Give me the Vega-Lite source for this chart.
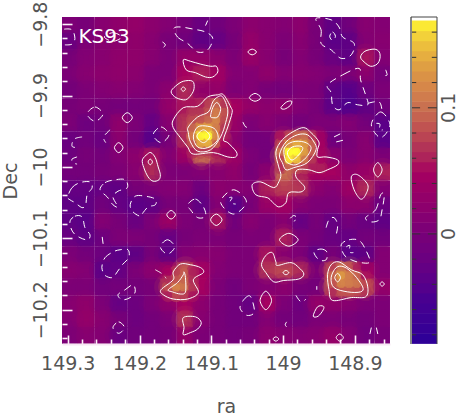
{"$schema":"https://vega.github.io/schema/vega-lite/v6.json","autosize":{"type":"none"},"padding":{"left":62,"top":17,"right":0,"bottom":70},"width":396,"height":327,"background":"white","config":{"view":{"stroke":null},"axis":{"labelFont":"DejaVu Sans","titleFont":"DejaVu Sans","labelColor":"#555","titleColor":"#555","labelFontSize":19,"titleFontSize":19,"titleFontWeight":"normal"}},
"datasets":{
"cells":[
{"ra":149.297,"dec":-9.801,"v":0.005},{"ra":149.275,"dec":-9.801,"v":0},{"ra":149.251,"dec":-9.801,"v":0.015},{"ra":149.229,"dec":-9.801,"v":0.025},{"ra":149.205,"dec":-9.801,"v":0.03},{"ra":149.182,"dec":-9.801,"v":0.02},{"ra":149.16,"dec":-9.801,"v":0.01},{"ra":149.136,"dec":-9.801,"v":0},{"ra":149.114,"dec":-9.801,"v":-0.02},{"ra":149.09,"dec":-9.801,"v":-0.01},{"ra":149.068,"dec":-9.801,"v":0.005},{"ra":149.045,"dec":-9.801,"v":0.02},{"ra":149.022,"dec":-9.801,"v":0.015},{"ra":148.999,"dec":-9.801,"v":0.01},{"ra":148.975,"dec":-9.801,"v":0.02},{"ra":148.953,"dec":-9.801,"v":0},{"ra":148.931,"dec":-9.801,"v":-0.03},{"ra":148.907,"dec":-9.801,"v":-0.01},{"ra":148.885,"dec":-9.801,"v":0.015},{"ra":148.861,"dec":-9.801,"v":0.01},
{"ra":149.297,"dec":-9.824,"v":-0.02},{"ra":149.275,"dec":-9.824,"v":0.005},{"ra":149.251,"dec":-9.824,"v":0.015},{"ra":149.229,"dec":-9.824,"v":0.02},{"ra":149.205,"dec":-9.824,"v":0.025},{"ra":149.182,"dec":-9.824,"v":0.015},{"ra":149.16,"dec":-9.824,"v":0},{"ra":149.136,"dec":-9.824,"v":-0.01},{"ra":149.114,"dec":-9.824,"v":-0.03},{"ra":149.09,"dec":-9.824,"v":-0.025},{"ra":149.068,"dec":-9.824,"v":0},{"ra":149.045,"dec":-9.824,"v":0.03},{"ra":149.022,"dec":-9.824,"v":0.015},{"ra":148.999,"dec":-9.824,"v":0.005},{"ra":148.975,"dec":-9.824,"v":0.015},{"ra":148.953,"dec":-9.824,"v":0},{"ra":148.931,"dec":-9.824,"v":-0.035},{"ra":148.907,"dec":-9.824,"v":-0.03},{"ra":148.885,"dec":-9.824,"v":0.01},{"ra":148.861,"dec":-9.824,"v":0.015},
{"ra":149.297,"dec":-9.847,"v":0},{"ra":149.275,"dec":-9.847,"v":0.01},{"ra":149.251,"dec":-9.847,"v":0.015},{"ra":149.229,"dec":-9.847,"v":0.025},{"ra":149.205,"dec":-9.847,"v":0.025},{"ra":149.182,"dec":-9.847,"v":0.015},{"ra":149.16,"dec":-9.847,"v":0.005},{"ra":149.136,"dec":-9.847,"v":0.03},{"ra":149.114,"dec":-9.847,"v":0.03},{"ra":149.09,"dec":-9.847,"v":0.02},{"ra":149.068,"dec":-9.847,"v":0.005},{"ra":149.045,"dec":-9.847,"v":0.035},{"ra":149.022,"dec":-9.847,"v":0.015},{"ra":148.999,"dec":-9.847,"v":0},{"ra":148.975,"dec":-9.847,"v":0.01},{"ra":148.953,"dec":-9.847,"v":0},{"ra":148.931,"dec":-9.847,"v":-0.02},{"ra":148.907,"dec":-9.847,"v":-0.03},{"ra":148.885,"dec":-9.847,"v":0.055},{"ra":148.861,"dec":-9.847,"v":0.01},
{"ra":149.297,"dec":-9.87,"v":0.005},{"ra":149.275,"dec":-9.87,"v":0.015},{"ra":149.251,"dec":-9.87,"v":0.02},{"ra":149.229,"dec":-9.87,"v":0.025},{"ra":149.205,"dec":-9.87,"v":0.02},{"ra":149.182,"dec":-9.87,"v":0.005},{"ra":149.16,"dec":-9.87,"v":0.005},{"ra":149.136,"dec":-9.87,"v":0.05},{"ra":149.114,"dec":-9.87,"v":0.06},{"ra":149.09,"dec":-9.87,"v":0.045},{"ra":149.068,"dec":-9.87,"v":0.01},{"ra":149.045,"dec":-9.87,"v":0.01},{"ra":149.022,"dec":-9.87,"v":0.025},{"ra":148.999,"dec":-9.87,"v":0.01},{"ra":148.975,"dec":-9.87,"v":0.015},{"ra":148.953,"dec":-9.87,"v":0.01},{"ra":148.931,"dec":-9.87,"v":0.005},{"ra":148.907,"dec":-9.87,"v":0.005},{"ra":148.885,"dec":-9.87,"v":0.02},{"ra":148.861,"dec":-9.87,"v":-0.005},
{"ra":149.297,"dec":-9.892,"v":-0.005},{"ra":149.275,"dec":-9.892,"v":0.005},{"ra":149.251,"dec":-9.892,"v":0.01},{"ra":149.229,"dec":-9.892,"v":0.015},{"ra":149.205,"dec":-9.892,"v":0.01},{"ra":149.182,"dec":-9.892,"v":0.005},{"ra":149.16,"dec":-9.892,"v":0.02},{"ra":149.136,"dec":-9.892,"v":0.065},{"ra":149.114,"dec":-9.892,"v":0.025},{"ra":149.09,"dec":-9.892,"v":0.03},{"ra":149.068,"dec":-9.892,"v":0.005},{"ra":149.045,"dec":-9.892,"v":0.01},{"ra":149.022,"dec":-9.892,"v":0},{"ra":148.999,"dec":-9.892,"v":-0.005},{"ra":148.975,"dec":-9.892,"v":0.005},{"ra":148.953,"dec":-9.892,"v":0.005},{"ra":148.931,"dec":-9.892,"v":-0.03},{"ra":148.907,"dec":-9.892,"v":-0.04},{"ra":148.885,"dec":-9.892,"v":-0.015},{"ra":148.861,"dec":-9.892,"v":0.005},
{"ra":149.297,"dec":-9.916,"v":0},{"ra":149.275,"dec":-9.916,"v":0.005},{"ra":149.251,"dec":-9.916,"v":0},{"ra":149.229,"dec":-9.916,"v":-0.005},{"ra":149.205,"dec":-9.916,"v":-0.005},{"ra":149.182,"dec":-9.916,"v":-0.005},{"ra":149.16,"dec":-9.916,"v":0.03},{"ra":149.136,"dec":-9.916,"v":0.055},{"ra":149.114,"dec":-9.916,"v":0.06},{"ra":149.09,"dec":-9.916,"v":0.08},{"ra":149.068,"dec":-9.916,"v":0.05},{"ra":149.045,"dec":-9.916,"v":0.03},{"ra":149.022,"dec":-9.916,"v":0.02},{"ra":148.999,"dec":-9.916,"v":0.025},{"ra":148.975,"dec":-9.916,"v":0.01},{"ra":148.953,"dec":-9.916,"v":0},{"ra":148.931,"dec":-9.916,"v":-0.035},{"ra":148.907,"dec":-9.916,"v":-0.045},{"ra":148.885,"dec":-9.916,"v":-0.03},{"ra":148.861,"dec":-9.916,"v":-0.01},
{"ra":149.297,"dec":-9.938,"v":0.005},{"ra":149.275,"dec":-9.938,"v":-0.015},{"ra":149.251,"dec":-9.938,"v":-0.01},{"ra":149.229,"dec":-9.938,"v":0.025},{"ra":149.205,"dec":-9.938,"v":0.005},{"ra":149.182,"dec":-9.938,"v":-0.025},{"ra":149.16,"dec":-9.938,"v":0.015},{"ra":149.136,"dec":-9.938,"v":0.07},{"ra":149.114,"dec":-9.938,"v":0.11},{"ra":149.09,"dec":-9.938,"v":0.115},{"ra":149.068,"dec":-9.938,"v":0.035},{"ra":149.045,"dec":-9.938,"v":0.005},{"ra":149.022,"dec":-9.938,"v":0.015},{"ra":148.999,"dec":-9.938,"v":0.005},{"ra":148.975,"dec":-9.938,"v":-0.005},{"ra":148.953,"dec":-9.938,"v":0.005},{"ra":148.931,"dec":-9.938,"v":0.005},{"ra":148.907,"dec":-9.938,"v":0.01},{"ra":148.885,"dec":-9.938,"v":-0.005},{"ra":148.861,"dec":-9.938,"v":-0.035},
{"ra":149.297,"dec":-9.962,"v":-0.02},{"ra":149.275,"dec":-9.962,"v":-0.01},{"ra":149.251,"dec":-9.962,"v":-0.02},{"ra":149.229,"dec":-9.962,"v":0.02},{"ra":149.205,"dec":-9.962,"v":-0.005},{"ra":149.182,"dec":-9.962,"v":-0.04},{"ra":149.16,"dec":-9.962,"v":0},{"ra":149.136,"dec":-9.962,"v":0.065},{"ra":149.114,"dec":-9.962,"v":0.15},{"ra":149.09,"dec":-9.962,"v":0.1},{"ra":149.068,"dec":-9.962,"v":0.02},{"ra":149.045,"dec":-9.962,"v":-0.005},{"ra":149.022,"dec":-9.962,"v":-0.005},{"ra":148.999,"dec":-9.962,"v":0.06},{"ra":148.975,"dec":-9.962,"v":0.09},{"ra":148.953,"dec":-9.962,"v":0.05},{"ra":148.931,"dec":-9.962,"v":-0.015},{"ra":148.907,"dec":-9.962,"v":0},{"ra":148.885,"dec":-9.962,"v":0.015},{"ra":148.861,"dec":-9.962,"v":-0.035},
{"ra":149.297,"dec":-9.985,"v":-0.015},{"ra":149.275,"dec":-9.985,"v":0},{"ra":149.251,"dec":-9.985,"v":-0.005},{"ra":149.229,"dec":-9.985,"v":0.01},{"ra":149.205,"dec":-9.985,"v":0.02},{"ra":149.182,"dec":-9.985,"v":0.055},{"ra":149.16,"dec":-9.985,"v":0.01},{"ra":149.136,"dec":-9.985,"v":0.04},{"ra":149.114,"dec":-9.985,"v":0.11},{"ra":149.09,"dec":-9.985,"v":0.07},{"ra":149.068,"dec":-9.985,"v":0.04},{"ra":149.045,"dec":-9.985,"v":0.005},{"ra":149.022,"dec":-9.985,"v":-0.005},{"ra":148.999,"dec":-9.985,"v":0.13},{"ra":148.975,"dec":-9.985,"v":0.17},{"ra":148.953,"dec":-9.985,"v":0.09},{"ra":148.931,"dec":-9.985,"v":0.02},{"ra":148.907,"dec":-9.985,"v":0.005},{"ra":148.885,"dec":-9.985,"v":0.015},{"ra":148.861,"dec":-9.985,"v":0.005},
{"ra":149.297,"dec":-10.007,"v":-0.005},{"ra":149.275,"dec":-10.007,"v":-0.005},{"ra":149.251,"dec":-10.007,"v":0},{"ra":149.229,"dec":-10.007,"v":0.005},{"ra":149.205,"dec":-10.007,"v":0.015},{"ra":149.182,"dec":-10.007,"v":0.065},{"ra":149.16,"dec":-10.007,"v":0.005},{"ra":149.136,"dec":-10.007,"v":0.005},{"ra":149.114,"dec":-10.007,"v":0.01},{"ra":149.09,"dec":-10.007,"v":0.015},{"ra":149.068,"dec":-10.007,"v":0.025},{"ra":149.045,"dec":-10.007,"v":0},{"ra":149.022,"dec":-10.007,"v":0.02},{"ra":148.999,"dec":-10.007,"v":0.1},{"ra":148.975,"dec":-10.007,"v":0.06},{"ra":148.953,"dec":-10.007,"v":0.05},{"ra":148.931,"dec":-10.007,"v":0.05},{"ra":148.907,"dec":-10.007,"v":0.025},{"ra":148.885,"dec":-10.007,"v":0.035},{"ra":148.861,"dec":-10.007,"v":0.06},
{"ra":149.297,"dec":-10.031,"v":-0.025},{"ra":149.275,"dec":-10.031,"v":-0.025},{"ra":149.251,"dec":-10.031,"v":-0.025},{"ra":149.229,"dec":-10.031,"v":-0.03},{"ra":149.205,"dec":-10.031,"v":0},{"ra":149.182,"dec":-10.031,"v":0.005},{"ra":149.16,"dec":-10.031,"v":0.01},{"ra":149.136,"dec":-10.031,"v":0.01},{"ra":149.114,"dec":-10.031,"v":-0.015},{"ra":149.09,"dec":-10.031,"v":0.02},{"ra":149.068,"dec":-10.031,"v":0.015},{"ra":149.045,"dec":-10.031,"v":0.01},{"ra":149.022,"dec":-10.031,"v":0.06},{"ra":148.999,"dec":-10.031,"v":0.075},{"ra":148.975,"dec":-10.031,"v":0.07},{"ra":148.953,"dec":-10.031,"v":0.02},{"ra":148.931,"dec":-10.031,"v":0.01},{"ra":148.907,"dec":-10.031,"v":0.04},{"ra":148.885,"dec":-10.031,"v":0.065},{"ra":148.861,"dec":-10.031,"v":0.01},
{"ra":149.297,"dec":-10.053,"v":-0.03},{"ra":149.275,"dec":-10.053,"v":-0.03},{"ra":149.251,"dec":-10.053,"v":-0.01},{"ra":149.229,"dec":-10.053,"v":-0.025},{"ra":149.205,"dec":-10.053,"v":-0.035},{"ra":149.182,"dec":-10.053,"v":-0.03},{"ra":149.16,"dec":-10.053,"v":0},{"ra":149.136,"dec":-10.053,"v":0},{"ra":149.114,"dec":-10.053,"v":-0.03},{"ra":149.09,"dec":-10.053,"v":0.01},{"ra":149.068,"dec":-10.053,"v":-0.04},{"ra":149.045,"dec":-10.053,"v":0},{"ra":149.022,"dec":-10.053,"v":0.035},{"ra":148.999,"dec":-10.053,"v":0.045},{"ra":148.975,"dec":-10.053,"v":0.015},{"ra":148.953,"dec":-10.053,"v":0.005},{"ra":148.931,"dec":-10.053,"v":0.005},{"ra":148.907,"dec":-10.053,"v":0.02},{"ra":148.885,"dec":-10.053,"v":0.02},{"ra":148.861,"dec":-10.053,"v":-0.02},
{"ra":149.297,"dec":-10.077,"v":-0.03},{"ra":149.275,"dec":-10.077,"v":-0.035},{"ra":149.251,"dec":-10.077,"v":0.01},{"ra":149.229,"dec":-10.077,"v":0},{"ra":149.205,"dec":-10.077,"v":-0.02},{"ra":149.182,"dec":-10.077,"v":0.005},{"ra":149.16,"dec":-10.077,"v":0.04},{"ra":149.136,"dec":-10.077,"v":0.005},{"ra":149.114,"dec":-10.077,"v":0},{"ra":149.09,"dec":-10.077,"v":0.055},{"ra":149.068,"dec":-10.077,"v":-0.01},{"ra":149.045,"dec":-10.077,"v":0.015},{"ra":149.022,"dec":-10.077,"v":0.005},{"ra":148.999,"dec":-10.077,"v":0.015},{"ra":148.975,"dec":-10.077,"v":-0.025},{"ra":148.953,"dec":-10.077,"v":0},{"ra":148.931,"dec":-10.077,"v":-0.025},{"ra":148.907,"dec":-10.077,"v":-0.005},{"ra":148.885,"dec":-10.077,"v":-0.02},{"ra":148.861,"dec":-10.077,"v":-0.03},
{"ra":149.297,"dec":-10.099,"v":-0.02},{"ra":149.275,"dec":-10.099,"v":-0.03},{"ra":149.251,"dec":-10.099,"v":-0.015},{"ra":149.229,"dec":-10.099,"v":0.005},{"ra":149.205,"dec":-10.099,"v":0.005},{"ra":149.182,"dec":-10.099,"v":0},{"ra":149.16,"dec":-10.099,"v":-0.025},{"ra":149.136,"dec":-10.099,"v":0},{"ra":149.114,"dec":-10.099,"v":0.005},{"ra":149.09,"dec":-10.099,"v":0.005},{"ra":149.068,"dec":-10.099,"v":0},{"ra":149.045,"dec":-10.099,"v":0.005},{"ra":149.022,"dec":-10.099,"v":0.005},{"ra":148.999,"dec":-10.099,"v":0.06},{"ra":148.975,"dec":-10.099,"v":0.005},{"ra":148.953,"dec":-10.099,"v":-0.005},{"ra":148.931,"dec":-10.099,"v":-0.02},{"ra":148.907,"dec":-10.099,"v":-0.025},{"ra":148.885,"dec":-10.099,"v":-0.005},{"ra":148.861,"dec":-10.099,"v":-0.01},
{"ra":149.297,"dec":-10.123,"v":0.005},{"ra":149.275,"dec":-10.123,"v":-0.005},{"ra":149.251,"dec":-10.123,"v":-0.015},{"ra":149.229,"dec":-10.123,"v":-0.035},{"ra":149.205,"dec":-10.123,"v":-0.03},{"ra":149.182,"dec":-10.123,"v":0},{"ra":149.16,"dec":-10.123,"v":-0.03},{"ra":149.136,"dec":-10.123,"v":0.01},{"ra":149.114,"dec":-10.123,"v":0.015},{"ra":149.09,"dec":-10.123,"v":0.015},{"ra":149.068,"dec":-10.123,"v":0.005},{"ra":149.045,"dec":-10.123,"v":0.005},{"ra":149.022,"dec":-10.123,"v":0.055},{"ra":148.999,"dec":-10.123,"v":0.015},{"ra":148.975,"dec":-10.123,"v":0.005},{"ra":148.953,"dec":-10.123,"v":-0.03},{"ra":148.931,"dec":-10.123,"v":0},{"ra":148.907,"dec":-10.123,"v":-0.035},{"ra":148.885,"dec":-10.123,"v":-0.03},{"ra":148.861,"dec":-10.123,"v":0.01},
{"ra":149.297,"dec":-10.145,"v":0.015},{"ra":149.275,"dec":-10.145,"v":0.01},{"ra":149.251,"dec":-10.145,"v":-0.035},{"ra":149.229,"dec":-10.145,"v":-0.025},{"ra":149.205,"dec":-10.145,"v":0.005},{"ra":149.182,"dec":-10.145,"v":0.02},{"ra":149.16,"dec":-10.145,"v":0.04},{"ra":149.136,"dec":-10.145,"v":0.09},{"ra":149.114,"dec":-10.145,"v":0.05},{"ra":149.09,"dec":-10.145,"v":0.01},{"ra":149.068,"dec":-10.145,"v":0.005},{"ra":149.045,"dec":-10.145,"v":0.005},{"ra":149.022,"dec":-10.145,"v":0.07},{"ra":148.999,"dec":-10.145,"v":0.08},{"ra":148.975,"dec":-10.145,"v":0.065},{"ra":148.953,"dec":-10.145,"v":0.005},{"ra":148.931,"dec":-10.145,"v":0.08},{"ra":148.907,"dec":-10.145,"v":0.11},{"ra":148.885,"dec":-10.145,"v":0.05},{"ra":148.861,"dec":-10.145,"v":0.01},
{"ra":149.297,"dec":-10.168,"v":0.005},{"ra":149.275,"dec":-10.168,"v":0.005},{"ra":149.251,"dec":-10.168,"v":-0.01},{"ra":149.229,"dec":-10.168,"v":-0.005},{"ra":149.205,"dec":-10.168,"v":-0.005},{"ra":149.182,"dec":-10.168,"v":0},{"ra":149.16,"dec":-10.168,"v":0.075},{"ra":149.136,"dec":-10.168,"v":0.115},{"ra":149.114,"dec":-10.168,"v":0.05},{"ra":149.09,"dec":-10.168,"v":0.005},{"ra":149.068,"dec":-10.168,"v":-0.01},{"ra":149.045,"dec":-10.168,"v":0.005},{"ra":149.022,"dec":-10.168,"v":0.01},{"ra":148.999,"dec":-10.168,"v":0.02},{"ra":148.975,"dec":-10.168,"v":0},{"ra":148.953,"dec":-10.168,"v":-0.005},{"ra":148.931,"dec":-10.168,"v":0.09},{"ra":148.907,"dec":-10.168,"v":0.11},{"ra":148.885,"dec":-10.168,"v":0.085},{"ra":148.861,"dec":-10.168,"v":0.03},
{"ra":149.297,"dec":-10.192,"v":0.015},{"ra":149.275,"dec":-10.192,"v":0.025},{"ra":149.251,"dec":-10.192,"v":0.005},{"ra":149.229,"dec":-10.192,"v":-0.025},{"ra":149.205,"dec":-10.192,"v":-0.015},{"ra":149.182,"dec":-10.192,"v":0.005},{"ra":149.16,"dec":-10.192,"v":0.025},{"ra":149.136,"dec":-10.192,"v":0.05},{"ra":149.114,"dec":-10.192,"v":0.02},{"ra":149.09,"dec":-10.192,"v":0},{"ra":149.068,"dec":-10.192,"v":-0.01},{"ra":149.045,"dec":-10.192,"v":-0.025},{"ra":149.022,"dec":-10.192,"v":0.05},{"ra":148.999,"dec":-10.192,"v":0.005},{"ra":148.975,"dec":-10.192,"v":-0.015},{"ra":148.953,"dec":-10.192,"v":0.03},{"ra":148.931,"dec":-10.192,"v":0.025},{"ra":148.907,"dec":-10.192,"v":0.015},{"ra":148.885,"dec":-10.192,"v":0.005},{"ra":148.861,"dec":-10.192,"v":0.005},
{"ra":149.297,"dec":-10.214,"v":0.01},{"ra":149.275,"dec":-10.214,"v":0.03},{"ra":149.251,"dec":-10.214,"v":0.015},{"ra":149.229,"dec":-10.214,"v":0},{"ra":149.205,"dec":-10.214,"v":-0.015},{"ra":149.182,"dec":-10.214,"v":-0.005},{"ra":149.16,"dec":-10.214,"v":0.005},{"ra":149.136,"dec":-10.214,"v":0.07},{"ra":149.114,"dec":-10.214,"v":0.015},{"ra":149.09,"dec":-10.214,"v":0},{"ra":149.068,"dec":-10.214,"v":-0.01},{"ra":149.045,"dec":-10.214,"v":-0.01},{"ra":149.022,"dec":-10.214,"v":0.01},{"ra":148.999,"dec":-10.214,"v":-0.005},{"ra":148.975,"dec":-10.214,"v":-0.01},{"ra":148.953,"dec":-10.214,"v":0.005},{"ra":148.931,"dec":-10.214,"v":0.005},{"ra":148.907,"dec":-10.214,"v":0},{"ra":148.885,"dec":-10.214,"v":-0.005},{"ra":148.861,"dec":-10.214,"v":0.005},
{"ra":149.297,"dec":-10.236,"v":0.005},{"ra":149.275,"dec":-10.236,"v":0.015},{"ra":149.251,"dec":-10.236,"v":0.01},{"ra":149.229,"dec":-10.236,"v":-0.02},{"ra":149.205,"dec":-10.236,"v":-0.01},{"ra":149.182,"dec":-10.236,"v":-0.005},{"ra":149.16,"dec":-10.236,"v":0},{"ra":149.136,"dec":-10.236,"v":0.03},{"ra":149.114,"dec":-10.236,"v":0.005},{"ra":149.09,"dec":-10.236,"v":0},{"ra":149.068,"dec":-10.236,"v":-0.005},{"ra":149.045,"dec":-10.236,"v":0},{"ra":149.022,"dec":-10.236,"v":0.02},{"ra":148.999,"dec":-10.236,"v":0.015},{"ra":148.975,"dec":-10.236,"v":0.01},{"ra":148.953,"dec":-10.236,"v":0.015},{"ra":148.931,"dec":-10.236,"v":0.03},{"ra":148.907,"dec":-10.236,"v":0.01},{"ra":148.885,"dec":-10.236,"v":-0.01},{"ra":148.861,"dec":-10.236,"v":0}
],
"fine":[
{"ra":149.126,"dec":-9.912,"v":0.055},{"ra":149.115,"dec":-9.912,"v":0.06},{"ra":149.104,"dec":-9.912,"v":0.075},{"ra":149.093,"dec":-9.912,"v":0.095},{"ra":149.082,"dec":-9.912,"v":0.07},
{"ra":149.126,"dec":-9.923,"v":0.07},{"ra":149.115,"dec":-9.923,"v":0.07},{"ra":149.104,"dec":-9.923,"v":0.085},{"ra":149.093,"dec":-9.923,"v":0.11},{"ra":149.082,"dec":-9.923,"v":0.085},
{"ra":149.126,"dec":-9.934,"v":0.08},{"ra":149.115,"dec":-9.934,"v":0.085},{"ra":149.104,"dec":-9.934,"v":0.095},{"ra":149.093,"dec":-9.934,"v":0.115},{"ra":149.082,"dec":-9.934,"v":0.08},
{"ra":149.126,"dec":-9.945,"v":0.095},{"ra":149.115,"dec":-9.945,"v":0.13},{"ra":149.104,"dec":-9.945,"v":0.135},{"ra":149.093,"dec":-9.945,"v":0.11},{"ra":149.082,"dec":-9.945,"v":0.07},
{"ra":149.126,"dec":-9.957,"v":0.11},{"ra":149.115,"dec":-9.957,"v":0.17},{"ra":149.104,"dec":-9.957,"v":0.172},{"ra":149.093,"dec":-9.957,"v":0.12},{"ra":149.082,"dec":-9.957,"v":0.06},
{"ra":149.126,"dec":-9.968,"v":0.085},{"ra":149.115,"dec":-9.968,"v":0.135},{"ra":149.104,"dec":-9.968,"v":0.14},{"ra":149.093,"dec":-9.968,"v":0.09},{"ra":149.082,"dec":-9.968,"v":0.05},
{"ra":149.126,"dec":-9.979,"v":0.06},{"ra":149.115,"dec":-9.979,"v":0.07},{"ra":149.104,"dec":-9.979,"v":0.07},{"ra":149.093,"dec":-9.979,"v":0.055},{"ra":149.082,"dec":-9.979,"v":0.035},
{"ra":149.003,"dec":-9.957,"v":0.055},{"ra":148.992,"dec":-9.957,"v":0.08},{"ra":148.981,"dec":-9.957,"v":0.095},{"ra":148.97,"dec":-9.957,"v":0.1},{"ra":148.959,"dec":-9.957,"v":0.07},{"ra":148.947,"dec":-9.957,"v":0.04},
{"ra":149.003,"dec":-9.968,"v":0.08},{"ra":148.992,"dec":-9.968,"v":0.125},{"ra":148.981,"dec":-9.968,"v":0.14},{"ra":148.97,"dec":-9.968,"v":0.13},{"ra":148.959,"dec":-9.968,"v":0.095},{"ra":148.947,"dec":-9.968,"v":0.045},
{"ra":149.003,"dec":-9.979,"v":0.1},{"ra":148.992,"dec":-9.979,"v":0.172},{"ra":148.981,"dec":-9.979,"v":0.172},{"ra":148.97,"dec":-9.979,"v":0.13},{"ra":148.959,"dec":-9.979,"v":0.09},{"ra":148.947,"dec":-9.979,"v":0.045},
{"ra":149.003,"dec":-9.99,"v":0.075},{"ra":148.992,"dec":-9.99,"v":0.165},{"ra":148.981,"dec":-9.99,"v":0.15},{"ra":148.97,"dec":-9.99,"v":0.105},{"ra":148.959,"dec":-9.99,"v":0.07},{"ra":148.947,"dec":-9.99,"v":0.05},
{"ra":149.003,"dec":-10.001,"v":0.065},{"ra":148.992,"dec":-10.001,"v":0.095},{"ra":148.981,"dec":-10.001,"v":0.085},{"ra":148.97,"dec":-10.001,"v":0.075},{"ra":148.959,"dec":-10.001,"v":0.06},{"ra":148.947,"dec":-10.001,"v":0.06},
{"ra":148.931,"dec":-10.141,"v":0.075},{"ra":148.919,"dec":-10.141,"v":0.1},{"ra":148.908,"dec":-10.141,"v":0.085},{"ra":148.897,"dec":-10.141,"v":0.06},{"ra":148.886,"dec":-10.141,"v":0.035},
{"ra":148.931,"dec":-10.152,"v":0.095},{"ra":148.919,"dec":-10.152,"v":0.13},{"ra":148.908,"dec":-10.152,"v":0.11},{"ra":148.897,"dec":-10.152,"v":0.095},{"ra":148.886,"dec":-10.152,"v":0.055},
{"ra":148.931,"dec":-10.164,"v":0.085},{"ra":148.919,"dec":-10.164,"v":0.115},{"ra":148.908,"dec":-10.164,"v":0.11},{"ra":148.897,"dec":-10.164,"v":0.105},{"ra":148.886,"dec":-10.164,"v":0.08},
{"ra":148.931,"dec":-10.175,"v":0.065},{"ra":148.919,"dec":-10.175,"v":0.085},{"ra":148.908,"dec":-10.175,"v":0.085},{"ra":148.897,"dec":-10.175,"v":0.08},{"ra":148.886,"dec":-10.175,"v":0.07},
{"ra":149.16,"dec":-10.147,"v":0.05},{"ra":149.149,"dec":-10.147,"v":0.075},{"ra":149.138,"dec":-10.147,"v":0.09},{"ra":149.126,"dec":-10.147,"v":0.06},
{"ra":149.16,"dec":-10.158,"v":0.065},{"ra":149.149,"dec":-10.158,"v":0.085},{"ra":149.138,"dec":-10.158,"v":0.095},{"ra":149.126,"dec":-10.158,"v":0.065},
{"ra":149.16,"dec":-10.169,"v":0.085},{"ra":149.149,"dec":-10.169,"v":0.115},{"ra":149.138,"dec":-10.169,"v":0.105},{"ra":149.126,"dec":-10.169,"v":0.07},
{"ra":149.16,"dec":-10.18,"v":0.06},{"ra":149.149,"dec":-10.18,"v":0.08},{"ra":149.138,"dec":-10.18,"v":0.075},{"ra":149.126,"dec":-10.18,"v":0.055}
],
"solid":[
{"c":1,"ra":149.139,"dec":-9.85},{"c":1,"ra":149.129,"dec":-9.852},{"c":1,"ra":149.115,"dec":-9.856},{"c":1,"ra":149.101,"dec":-9.859},{"c":1,"ra":149.093,"dec":-9.859},{"c":1,"ra":149.091,"dec":-9.867},{"c":1,"ra":149.098,"dec":-9.874},{"c":1,"ra":149.108,"dec":-9.874},{"c":1,"ra":149.122,"dec":-9.868},{"c":1,"ra":149.135,"dec":-9.864},
{"c":2,"ra":149.156,"dec":-9.895},{"c":2,"ra":149.15,"dec":-9.887},{"c":2,"ra":149.139,"dec":-9.88},{"c":2,"ra":149.126,"dec":-9.88},{"c":2,"ra":149.124,"dec":-9.89},{"c":2,"ra":149.128,"dec":-9.899},{"c":2,"ra":149.136,"dec":-9.906},{"c":2,"ra":149.149,"dec":-9.903},
{"c":3,"ra":149.142,"dec":-9.891},{"c":3,"ra":149.139,"dec":-9.888},{"c":3,"ra":149.136,"dec":-9.891},{"c":3,"ra":149.139,"dec":-9.894},
{"c":4,"ra":149.224,"dec":-9.931},{"c":4,"ra":149.217,"dec":-9.924},{"c":4,"ra":149.21,"dec":-9.931},{"c":4,"ra":149.217,"dec":-9.938},
{"c":5,"ra":149.235,"dec":-9.973},{"c":5,"ra":149.229,"dec":-9.966},{"c":5,"ra":149.223,"dec":-9.973},{"c":5,"ra":149.229,"dec":-9.98},
{"c":6,"ra":149.196,"dec":-9.99},{"c":6,"ra":149.189,"dec":-9.982},{"c":6,"ra":149.184,"dec":-9.98},{"c":6,"ra":149.178,"dec":-9.987},{"c":6,"ra":149.174,"dec":-10},{"c":6,"ra":149.171,"dec":-10.011},{"c":6,"ra":149.173,"dec":-10.018},{"c":6,"ra":149.181,"dec":-10.02},{"c":6,"ra":149.188,"dec":-10.014},{"c":6,"ra":149.194,"dec":-10.001},
{"c":7,"ra":149.188,"dec":-9.993},{"c":7,"ra":149.185,"dec":-9.989},{"c":7,"ra":149.182,"dec":-9.993},{"c":7,"ra":149.185,"dec":-9.997},
{"c":8,"ra":149.153,"dec":-9.934},{"c":8,"ra":149.139,"dec":-9.917},{"c":8,"ra":149.119,"dec":-9.915},{"c":8,"ra":149.105,"dec":-9.902},{"c":8,"ra":149.091,"dec":-9.899},{"c":8,"ra":149.083,"dec":-9.899},{"c":8,"ra":149.073,"dec":-9.916},{"c":8,"ra":149.071,"dec":-9.924},{"c":8,"ra":149.077,"dec":-9.944},{"c":8,"ra":149.083,"dec":-9.962},{"c":8,"ra":149.077,"dec":-9.966},{"c":8,"ra":149.065,"dec":-9.979},{"c":8,"ra":149.066,"dec":-9.986},{"c":8,"ra":149.077,"dec":-9.986},{"c":8,"ra":149.097,"dec":-9.98},{"c":8,"ra":149.125,"dec":-9.982},{"c":8,"ra":149.133,"dec":-9.972},{"c":8,"ra":149.143,"dec":-9.959},{"c":8,"ra":149.153,"dec":-9.945},
{"c":9,"ra":149.132,"dec":-9.944},{"c":9,"ra":149.119,"dec":-9.93},{"c":9,"ra":149.104,"dec":-9.923},{"c":9,"ra":149.098,"dec":-9.909},{"c":9,"ra":149.091,"dec":-9.902},{"c":9,"ra":149.084,"dec":-9.902},{"c":9,"ra":149.077,"dec":-9.92},{"c":9,"ra":149.08,"dec":-9.938},{"c":9,"ra":149.087,"dec":-9.958},{"c":9,"ra":149.101,"dec":-9.976},{"c":9,"ra":149.119,"dec":-9.978},{"c":9,"ra":149.129,"dec":-9.965},{"c":9,"ra":149.132,"dec":-9.952},
{"c":10,"ra":149.119,"dec":-9.944},{"c":10,"ra":149.105,"dec":-9.943},{"c":10,"ra":149.094,"dec":-9.948},{"c":10,"ra":149.091,"dec":-9.962},{"c":10,"ra":149.105,"dec":-9.973},{"c":10,"ra":149.119,"dec":-9.972},{"c":10,"ra":149.125,"dec":-9.958},
{"c":11,"ra":149.12,"dec":-9.957},{"c":11,"ra":149.111,"dec":-9.948},{"c":11,"ra":149.102,"dec":-9.957},{"c":11,"ra":149.111,"dec":-9.966},
{"c":12,"ra":149.101,"dec":-9.929},{"c":12,"ra":149.098,"dec":-9.917},{"c":12,"ra":149.093,"dec":-9.91},{"c":12,"ra":149.089,"dec":-9.913},{"c":12,"ra":149.087,"dec":-9.92},{"c":12,"ra":149.091,"dec":-9.93},{"c":12,"ra":149.098,"dec":-9.931},
{"c":13,"ra":149.049,"dec":-9.839},{"c":13,"ra":149.043,"dec":-9.835},{"c":13,"ra":149.037,"dec":-9.839},{"c":13,"ra":149.043,"dec":-9.843},
{"c":14,"ra":148.892,"dec":-9.846},{"c":14,"ra":148.886,"dec":-9.838},{"c":14,"ra":148.873,"dec":-9.835},{"c":14,"ra":148.866,"dec":-9.839},{"c":14,"ra":148.865,"dec":-9.848},{"c":14,"ra":148.869,"dec":-9.856},{"c":14,"ra":148.878,"dec":-9.859},{"c":14,"ra":148.887,"dec":-9.853},
{"c":15,"ra":149.047,"dec":-9.903},{"c":15,"ra":149.039,"dec":-9.897},{"c":15,"ra":149.031,"dec":-9.903},{"c":15,"ra":149.039,"dec":-9.908},
{"c":16,"ra":149.003,"dec":-9.917},{"c":16,"ra":148.995,"dec":-9.909},{"c":16,"ra":148.988,"dec":-9.908},{"c":16,"ra":148.99,"dec":-9.914},{"c":16,"ra":148.998,"dec":-9.919},
{"c":17,"ra":149.01,"dec":-9.979},{"c":17,"ra":149.001,"dec":-9.962},{"c":17,"ra":148.985,"dec":-9.95},{"c":17,"ra":148.971,"dec":-9.945},{"c":17,"ra":148.961,"dec":-9.952},{"c":17,"ra":148.95,"dec":-9.965},{"c":17,"ra":148.952,"dec":-9.976},{"c":17,"ra":148.952,"dec":-9.986},{"c":17,"ra":148.94,"dec":-9.986},{"c":17,"ra":148.924,"dec":-9.99},{"c":17,"ra":148.924,"dec":-9.997},{"c":17,"ra":148.938,"dec":-10.004},{"c":17,"ra":148.95,"dec":-10.008},{"c":17,"ra":148.964,"dec":-10.004},{"c":17,"ra":148.98,"dec":-10.004},{"c":17,"ra":148.982,"dec":-10.014},{"c":17,"ra":148.97,"dec":-10.028},{"c":17,"ra":148.975,"dec":-10.035},{"c":17,"ra":148.992,"dec":-10.036},{"c":17,"ra":148.996,"dec":-10.05},{"c":17,"ra":149.006,"dec":-10.056},{"c":17,"ra":149.015,"dec":-10.049},{"c":17,"ra":149.022,"dec":-10.043},{"c":17,"ra":149.038,"dec":-10.039},{"c":17,"ra":149.043,"dec":-10.025},{"c":17,"ra":149.031,"dec":-10.021},{"c":17,"ra":149.013,"dec":-10.029},{"c":17,"ra":149.006,"dec":-10.021},{"c":17,"ra":149.003,"dec":-10.011},{"c":17,"ra":149.006,"dec":-10},
{"c":18,"ra":149.005,"dec":-9.983},{"c":18,"ra":148.996,"dec":-9.965},{"c":18,"ra":148.98,"dec":-9.955},{"c":18,"ra":148.966,"dec":-9.955},{"c":18,"ra":148.957,"dec":-9.965},{"c":18,"ra":148.954,"dec":-9.976},{"c":18,"ra":148.966,"dec":-9.994},{"c":18,"ra":148.985,"dec":-10.001},{"c":18,"ra":148.996,"dec":-10.004},{"c":18,"ra":149.001,"dec":-9.994},
{"c":19,"ra":148.998,"dec":-9.973},{"c":19,"ra":148.987,"dec":-9.965},{"c":19,"ra":148.971,"dec":-9.965},{"c":19,"ra":148.961,"dec":-9.973},{"c":19,"ra":148.968,"dec":-9.987},{"c":19,"ra":148.982,"dec":-9.997},{"c":19,"ra":148.994,"dec":-9.994},{"c":19,"ra":148.998,"dec":-9.986},
{"c":20,"ra":148.994,"dec":-9.98},{"c":20,"ra":148.987,"dec":-9.972},{"c":20,"ra":148.975,"dec":-9.971},{"c":20,"ra":148.973,"dec":-9.976},{"c":20,"ra":148.982,"dec":-9.987},{"c":20,"ra":148.989,"dec":-9.99},
{"c":21,"ra":148.905,"dec":-10.014},{"c":21,"ra":148.896,"dec":-10.011},{"c":21,"ra":148.882,"dec":-10.025},{"c":21,"ra":148.885,"dec":-10.039},{"c":21,"ra":148.892,"dec":-10.045},{"c":21,"ra":148.901,"dec":-10.032},
{"c":22,"ra":148.874,"dec":-10.004},{"c":22,"ra":148.868,"dec":-9.994},{"c":22,"ra":148.862,"dec":-10.004},{"c":22,"ra":148.868,"dec":-10.014},
{"c":23,"ra":149.162,"dec":-10.067},{"c":23,"ra":149.156,"dec":-10.061},{"c":23,"ra":149.15,"dec":-10.067},{"c":23,"ra":149.156,"dec":-10.073},
{"c":24,"ra":149.101,"dec":-10.074},{"c":24,"ra":149.093,"dec":-10.066},{"c":24,"ra":149.085,"dec":-10.074},{"c":24,"ra":149.093,"dec":-10.082},
{"c":25,"ra":149.17,"dec":-10.172},{"c":25,"ra":149.153,"dec":-10.158},{"c":25,"ra":149.153,"dec":-10.147},{"c":25,"ra":149.143,"dec":-10.136},{"c":25,"ra":149.129,"dec":-10.137},{"c":25,"ra":149.115,"dec":-10.141},{"c":25,"ra":149.111,"dec":-10.148},{"c":25,"ra":149.125,"dec":-10.158},{"c":25,"ra":149.118,"dec":-10.176},{"c":25,"ra":149.133,"dec":-10.185},{"c":25,"ra":149.153,"dec":-10.185},{"c":25,"ra":149.167,"dec":-10.179},
{"c":26,"ra":149.16,"dec":-10.172},{"c":26,"ra":149.147,"dec":-10.162},{"c":26,"ra":149.139,"dec":-10.151},{"c":26,"ra":149.138,"dec":-10.147},{"c":26,"ra":149.136,"dec":-10.155},{"c":26,"ra":149.136,"dec":-10.175},{"c":26,"ra":149.143,"dec":-10.178},{"c":26,"ra":149.154,"dec":-10.175},
{"c":27,"ra":149.139,"dec":-10.211},{"c":27,"ra":149.122,"dec":-10.21},{"c":27,"ra":149.114,"dec":-10.218},{"c":27,"ra":149.119,"dec":-10.227},{"c":27,"ra":149.129,"dec":-10.232},{"c":27,"ra":149.139,"dec":-10.235},{"c":27,"ra":149.138,"dec":-10.225},
{"c":28,"ra":149.005,"dec":-10.102},{"c":28,"ra":148.992,"dec":-10.093},{"c":28,"ra":148.979,"dec":-10.102},{"c":28,"ra":148.992,"dec":-10.111},
{"c":29,"ra":149.03,"dec":-10.137},{"c":29,"ra":149.024,"dec":-10.124},{"c":29,"ra":149.015,"dec":-10.12},{"c":29,"ra":149.01,"dec":-10.133},{"c":29,"ra":149.008,"dec":-10.138},{"c":29,"ra":148.989,"dec":-10.134},{"c":29,"ra":148.978,"dec":-10.141},{"c":29,"ra":148.971,"dec":-10.15},{"c":29,"ra":148.978,"dec":-10.157},{"c":29,"ra":148.999,"dec":-10.159},{"c":29,"ra":149.013,"dec":-10.161},{"c":29,"ra":149.024,"dec":-10.148},
{"c":30,"ra":149,"dec":-10.148},{"c":30,"ra":148.996,"dec":-10.145},{"c":30,"ra":148.992,"dec":-10.148},{"c":30,"ra":148.996,"dec":-10.151},
{"c":31,"ra":149.032,"dec":-10.187},{"c":31,"ra":149.024,"dec":-10.174},{"c":31,"ra":149.016,"dec":-10.187},{"c":31,"ra":149.024,"dec":-10.2},
{"c":32,"ra":148.958,"dec":-10.209},{"c":32,"ra":148.952,"dec":-10.196},{"c":32,"ra":148.944,"dec":-10.195},{"c":32,"ra":148.944,"dec":-10.2},{"c":32,"ra":148.951,"dec":-10.209},
{"c":33,"ra":149.014,"dec":-10.241},{"c":33,"ra":149.01,"dec":-10.238},{"c":33,"ra":149.006,"dec":-10.241},{"c":33,"ra":149.01,"dec":-10.244},
{"c":34,"ra":148.926,"dec":-10.239},{"c":34,"ra":148.921,"dec":-10.234},{"c":34,"ra":148.916,"dec":-10.239},{"c":34,"ra":148.921,"dec":-10.244},
{"c":35,"ra":148.865,"dec":-10.164},{"c":35,"ra":148.862,"dec":-10.161},{"c":35,"ra":148.859,"dec":-10.164},{"c":35,"ra":148.862,"dec":-10.167},
{"c":36,"ra":148.938,"dec":-10.151},{"c":36,"ra":148.933,"dec":-10.137},{"c":36,"ra":148.922,"dec":-10.133},{"c":36,"ra":148.905,"dec":-10.144},{"c":36,"ra":148.889,"dec":-10.151},{"c":36,"ra":148.882,"dec":-10.168},{"c":36,"ra":148.885,"dec":-10.182},{"c":36,"ra":148.905,"dec":-10.183},{"c":36,"ra":148.931,"dec":-10.187},{"c":36,"ra":148.936,"dec":-10.172},
{"c":37,"ra":148.933,"dec":-10.155},{"c":37,"ra":148.926,"dec":-10.141},{"c":37,"ra":148.915,"dec":-10.14},{"c":37,"ra":148.901,"dec":-10.151},{"c":37,"ra":148.889,"dec":-10.168},{"c":37,"ra":148.892,"dec":-10.175},{"c":37,"ra":148.91,"dec":-10.175},{"c":37,"ra":148.929,"dec":-10.169},
{"c":38,"ra":148.928,"dec":-10.155},{"c":38,"ra":148.924,"dec":-10.149},{"c":38,"ra":148.92,"dec":-10.155},{"c":38,"ra":148.924,"dec":-10.161}
],
"dashClosed":[
{"c":1,"ra":149.273,"dec":-9.926},{"c":1,"ra":149.262,"dec":-9.916},{"c":1,"ra":149.251,"dec":-9.926},{"c":1,"ra":149.262,"dec":-9.936},
{"c":2,"ra":149.181,"dec":-9.955},{"c":2,"ra":149.17,"dec":-9.944},{"c":2,"ra":149.159,"dec":-9.955},{"c":2,"ra":149.17,"dec":-9.966},
{"c":3,"ra":149.152,"dec":-9.806},{"c":3,"ra":149.147,"dec":-9.818},{"c":3,"ra":149.133,"dec":-9.827},{"c":3,"ra":149.119,"dec":-9.839},{"c":3,"ra":149.105,"dec":-9.836},{"c":3,"ra":149.098,"dec":-9.82},{"c":3,"ra":149.108,"dec":-9.811},{"c":3,"ra":149.125,"dec":-9.807},{"c":3,"ra":149.143,"dec":-9.804},
{"c":4,"ra":148.954,"dec":-9.792},{"c":4,"ra":148.947,"dec":-9.808},{"c":4,"ra":148.947,"dec":-9.827},{"c":4,"ra":148.933,"dec":-9.836},{"c":4,"ra":148.919,"dec":-9.848},{"c":4,"ra":148.905,"dec":-9.843},{"c":4,"ra":148.901,"dec":-9.827},{"c":4,"ra":148.917,"dec":-9.818},{"c":4,"ra":148.922,"dec":-9.804},{"c":4,"ra":148.933,"dec":-9.794},
{"c":5,"ra":148.935,"dec":-9.817},{"c":5,"ra":148.931,"dec":-9.811},{"c":5,"ra":148.927,"dec":-9.817},{"c":5,"ra":148.931,"dec":-9.823},
{"c":6,"ra":148.938,"dec":-9.885},{"c":6,"ra":148.915,"dec":-9.87},{"c":6,"ra":148.894,"dec":-9.862},{"c":6,"ra":148.892,"dec":-9.878},{"c":6,"ra":148.885,"dec":-9.899},{"c":6,"ra":148.882,"dec":-9.913},{"c":6,"ra":148.896,"dec":-9.913},{"c":6,"ra":148.91,"dec":-9.91},{"c":6,"ra":148.922,"dec":-9.92},{"c":6,"ra":148.931,"dec":-9.913},{"c":6,"ra":148.933,"dec":-9.896},
{"c":7,"ra":148.877,"dec":-9.941},{"c":7,"ra":148.864,"dec":-9.923},{"c":7,"ra":148.851,"dec":-9.941},{"c":7,"ra":148.864,"dec":-9.959},
{"c":8,"ra":149.3,"dec":-10.042},{"c":8,"ra":149.294,"dec":-10.029},{"c":8,"ra":149.283,"dec":-10.022},{"c":8,"ra":149.269,"dec":-10.021},{"c":8,"ra":149.266,"dec":-10.029},{"c":8,"ra":149.273,"dec":-10.039},{"c":8,"ra":149.275,"dec":-10.053},{"c":8,"ra":149.28,"dec":-10.057},{"c":8,"ra":149.29,"dec":-10.05},{"c":8,"ra":149.297,"dec":-10.046},
{"c":9,"ra":149.255,"dec":-10.032},{"c":9,"ra":149.248,"dec":-10.022},{"c":9,"ra":149.234,"dec":-10.018},{"c":9,"ra":149.22,"dec":-10.018},{"c":9,"ra":149.217,"dec":-10.029},{"c":9,"ra":149.23,"dec":-10.034},{"c":9,"ra":149.237,"dec":-10.042},{"c":9,"ra":149.23,"dec":-10.056},{"c":9,"ra":149.237,"dec":-10.053},{"c":9,"ra":149.245,"dec":-10.042},
{"c":10,"ra":149.213,"dec":-10.053},{"c":10,"ra":149.206,"dec":-10.041},{"c":10,"ra":149.192,"dec":-10.041},{"c":10,"ra":149.178,"dec":-10.045},{"c":10,"ra":149.178,"dec":-10.053},{"c":10,"ra":149.188,"dec":-10.056},{"c":10,"ra":149.195,"dec":-10.064},{"c":10,"ra":149.199,"dec":-10.069},{"c":10,"ra":149.209,"dec":-10.063},
{"c":11,"ra":149.133,"dec":-10.053},{"c":11,"ra":149.122,"dec":-10.045},{"c":11,"ra":149.111,"dec":-10.056},{"c":11,"ra":149.108,"dec":-10.069},{"c":11,"ra":149.119,"dec":-10.071},{"c":11,"ra":149.129,"dec":-10.06},
{"c":12,"ra":149.297,"dec":-10.077},{"c":12,"ra":149.29,"dec":-10.069},{"c":12,"ra":149.28,"dec":-10.07},{"c":12,"ra":149.276,"dec":-10.085},{"c":12,"ra":149.269,"dec":-10.095},{"c":12,"ra":149.272,"dec":-10.102},{"c":12,"ra":149.283,"dec":-10.099},{"c":12,"ra":149.293,"dec":-10.091},
{"c":13,"ra":149.252,"dec":-10.137},{"c":13,"ra":149.248,"dec":-10.127},{"c":13,"ra":149.237,"dec":-10.119},{"c":13,"ra":149.227,"dec":-10.116},{"c":13,"ra":149.216,"dec":-10.116},{"c":13,"ra":149.215,"dec":-10.127},{"c":13,"ra":149.224,"dec":-10.137},{"c":13,"ra":149.231,"dec":-10.147},{"c":13,"ra":149.238,"dec":-10.155},{"c":13,"ra":149.248,"dec":-10.152},{"c":13,"ra":149.252,"dec":-10.144},
{"c":14,"ra":149.171,"dec":-10.112},{"c":14,"ra":149.161,"dec":-10.102},{"c":14,"ra":149.151,"dec":-10.112},{"c":14,"ra":149.161,"dec":-10.122},
{"c":15,"ra":149.23,"dec":-10.179},{"c":15,"ra":149.22,"dec":-10.172},{"c":15,"ra":149.209,"dec":-10.165},{"c":15,"ra":149.206,"dec":-10.175},{"c":15,"ra":149.213,"dec":-10.183},{"c":15,"ra":149.224,"dec":-10.186},
{"c":16,"ra":149.237,"dec":-10.225},{"c":16,"ra":149.229,"dec":-10.217},{"c":16,"ra":149.221,"dec":-10.225},{"c":16,"ra":149.229,"dec":-10.233},
{"c":17,"ra":149.087,"dec":-10.049},{"c":17,"ra":149.069,"dec":-10.032},{"c":17,"ra":149.051,"dec":-10.049},{"c":17,"ra":149.069,"dec":-10.066},
{"c":18,"ra":148.919,"dec":-10.109},{"c":18,"ra":148.908,"dec":-10.102},{"c":18,"ra":148.894,"dec":-10.103},{"c":18,"ra":148.885,"dec":-10.116},{"c":18,"ra":148.879,"dec":-10.133},{"c":18,"ra":148.892,"dec":-10.134},{"c":18,"ra":148.905,"dec":-10.13},{"c":18,"ra":148.915,"dec":-10.123},
{"c":19,"ra":149.059,"dec":-10.193},{"c":19,"ra":149.052,"dec":-10.183},{"c":19,"ra":149.045,"dec":-10.182},{"c":19,"ra":149.04,"dec":-10.203},{"c":19,"ra":149.05,"dec":-10.208},{"c":19,"ra":149.059,"dec":-10.2},
{"c":20,"ra":149.249,"dec":-9.818},{"c":20,"ra":149.237,"dec":-9.812},{"c":20,"ra":149.225,"dec":-9.818},{"c":20,"ra":149.237,"dec":-9.824},
{"c":21,"ra":148.957,"dec":-10.119},{"c":21,"ra":148.947,"dec":-10.115},{"c":21,"ra":148.939,"dec":-10.119},{"c":21,"ra":148.94,"dec":-10.13},{"c":21,"ra":148.95,"dec":-10.13},
{"c":22,"ra":148.885,"dec":-10.071},{"c":22,"ra":148.871,"dec":-10.06},{"c":22,"ra":148.864,"dec":-10.039},{"c":22,"ra":148.859,"dec":-10.039},{"c":22,"ra":148.862,"dec":-10.06},{"c":22,"ra":148.866,"dec":-10.074},{"c":22,"ra":148.878,"dec":-10.077}
],
"dashOpen":[
{"c":1,"ra":149.305,"dec":-9.807},{"c":1,"ra":149.294,"dec":-9.808},{"c":1,"ra":149.29,"dec":-9.82},{"c":1,"ra":149.294,"dec":-9.828},{"c":1,"ra":149.304,"dec":-9.829},
{"c":2,"ra":149.28,"dec":-9.958},{"c":2,"ra":149.291,"dec":-9.961},{"c":2,"ra":149.294,"dec":-9.971},{"c":2,"ra":149.286,"dec":-9.973},
{"c":3,"ra":149.287,"dec":-9.986},{"c":3,"ra":149.294,"dec":-9.989},{"c":3,"ra":149.293,"dec":-9.994},{"c":3,"ra":149.287,"dec":-9.996},
{"c":4,"ra":149.241,"dec":-9.948},{"c":4,"ra":149.25,"dec":-9.958},{"c":4,"ra":149.247,"dec":-9.966},
{"c":5,"ra":149.168,"dec":-9.825},{"c":5,"ra":149.164,"dec":-9.829},{"c":5,"ra":149.168,"dec":-9.834},
{"c":6,"ra":149.105,"dec":-9.795},{"c":6,"ra":149.108,"dec":-9.802},
{"c":7,"ra":148.882,"dec":-9.911},{"c":7,"ra":148.866,"dec":-9.909},{"c":7,"ra":148.862,"dec":-9.923},
{"c":8,"ra":148.87,"dec":-9.939},{"c":8,"ra":148.865,"dec":-9.94},{"c":8,"ra":148.866,"dec":-9.948},{"c":8,"ra":148.861,"dec":-9.948},
{"c":9,"ra":148.929,"dec":-9.958},{"c":9,"ra":148.917,"dec":-9.952},
{"c":10,"ra":148.926,"dec":-9.965},{"c":10,"ra":148.914,"dec":-9.962},
{"c":11,"ra":149.056,"dec":-9.937},{"c":11,"ra":149.052,"dec":-9.944},{"c":11,"ra":149.047,"dec":-9.944},
{"c":12,"ra":148.857,"dec":-9.864},{"c":12,"ra":148.855,"dec":-9.871},{"c":12,"ra":148.858,"dec":-9.872},
{"c":13,"ra":149.252,"dec":-10.098},{"c":13,"ra":149.25,"dec":-10.113},
{"c":14,"ra":149.178,"dec":-10.144},{"c":14,"ra":149.168,"dec":-10.15},{"c":14,"ra":149.163,"dec":-10.156},
{"c":15,"ra":149.075,"dec":-10.043},{"c":15,"ra":149.071,"dec":-10.043},{"c":15,"ra":149.074,"dec":-10.05},{"c":15,"ra":149.066,"dec":-10.052},
{"c":16,"ra":148.99,"dec":-10.072},{"c":16,"ra":148.985,"dec":-10.068},{"c":16,"ra":148.98,"dec":-10.072},{"c":16,"ra":148.985,"dec":-10.076},
{"c":17,"ra":148.94,"dec":-10.085},{"c":17,"ra":148.936,"dec":-10.074},{"c":17,"ra":148.929,"dec":-10.071},{"c":17,"ra":148.924,"dec":-10.081},{"c":17,"ra":148.926,"dec":-10.095},
{"c":18,"ra":148.912,"dec":-10.112},{"c":18,"ra":148.907,"dec":-10.11},{"c":18,"ra":148.908,"dec":-10.119},{"c":18,"ra":148.902,"dec":-10.12},
{"c":19,"ra":148.982,"dec":-10.18},{"c":19,"ra":148.975,"dec":-10.189},{"c":19,"ra":148.968,"dec":-10.185},
{"c":20,"ra":148.995,"dec":-10.217},{"c":20,"ra":148.997,"dec":-10.221},{"c":20,"ra":148.995,"dec":-10.224},
{"c":21,"ra":148.877,"dec":-10.225},{"c":21,"ra":148.879,"dec":-10.234},
{"c":22,"ra":148.87,"dec":-10.225},{"c":22,"ra":148.868,"dec":-10.234},
{"c":23,"ra":148.953,"dec":-10.167},{"c":23,"ra":148.953,"dec":-10.172}
],
"bar":[{"v":-0.083},{"v":-0.075},{"v":-0.067},{"v":-0.059},{"v":-0.051},{"v":-0.043},{"v":-0.035},{"v":-0.027},{"v":-0.019},{"v":-0.011},{"v":-0.003},{"v":0.005},{"v":0.013},{"v":0.021},{"v":0.029},{"v":0.037},{"v":0.045},{"v":0.053},{"v":0.061},{"v":0.069},{"v":0.077},{"v":0.085},{"v":0.093},{"v":0.101},{"v":0.109},{"v":0.117},{"v":0.125},{"v":0.133},{"v":0.141},{"v":0.149},{"v":0.157},{"v":0.165}],
"barTicks":[{"v":-0.08,"a":0,"b":0.2},{"v":-0.08,"a":0.8,"b":1},{"v":-0.06,"a":0,"b":0.2},{"v":-0.06,"a":0.8,"b":1},{"v":-0.04,"a":0,"b":0.2},{"v":-0.04,"a":0.8,"b":1},{"v":-0.02,"a":0,"b":0.2},{"v":-0.02,"a":0.8,"b":1},{"v":0,"a":0,"b":0.35},{"v":0,"a":0.65,"b":1},{"v":0.02,"a":0,"b":0.2},{"v":0.02,"a":0.8,"b":1},{"v":0.04,"a":0,"b":0.2},{"v":0.04,"a":0.8,"b":1},{"v":0.06,"a":0,"b":0.2},{"v":0.06,"a":0.8,"b":1},{"v":0.08,"a":0,"b":0.2},{"v":0.08,"a":0.8,"b":1},{"v":0.1,"a":0,"b":0.35},{"v":0.1,"a":0.65,"b":1},{"v":0.12,"a":0,"b":0.2},{"v":0.12,"a":0.8,"b":1},{"v":0.14,"a":0,"b":0.2},{"v":0.14,"a":0.8,"b":1},{"v":0.16,"a":0,"b":0.2},{"v":0.16,"a":0.8,"b":1}]
},
"layer":[
{"encoding":{"x":{"field":"ra","type":"quantitative","title":"ra","scale":{"domain":[149.308,148.851],"range":[0,328],"nice":false,"zero":false},"axis":{"zindex":1,"grid":false,"labelOverlap":false,"labelBound":false,"labelFlush":false,"values":[149.3,149.28,149.26,149.24,149.22,149.2,149.18,149.16,149.14,149.12,149.1,149.08,149.06,149.04,149.02,149,148.98,148.96,148.94,148.92,148.9,148.88,148.86],"labelExpr":"abs(datum.value*10-round(datum.value*10))<0.001?format(datum.value,'.2~f'):''","tickColor":"#fbeef8","tickWidth":1.6,"tickSize":{"condition":{"test":"abs(datum.value*10-round(datum.value*10))<0.001","value":-9},"value":-5},"domainColor":"#f8e8f4","domainWidth":2,"labelPadding":19,"titlePadding":20,"labelAngle":0}},
"y":{"field":"dec","type":"quantitative","title":"Dec","scale":{"domain":[-10.248,-9.79],"nice":false,"zero":false},"axis":{"zindex":1,"grid":false,"labelOverlap":false,"labelBound":false,"labelFlush":false,"values":[-9.8,-9.82,-9.84,-9.86,-9.88,-9.9,-9.92,-9.94,-9.96,-9.98,-10,-10.02,-10.04,-10.06,-10.08,-10.1,-10.12,-10.14,-10.16,-10.18,-10.2,-10.22,-10.24],"labelExpr":"abs(datum.value*10-round(datum.value*10))<0.001?format(datum.value,'.2~f'):''","tickColor":"#fbeef8","tickWidth":1.6,"tickSize":{"condition":{"test":"abs(datum.value*10-round(datum.value*10))<0.001","value":-10},"value":-5},"domain":false,"labelAngle":-90,"labelAlign":"center","labelBaseline":"bottom","labelPadding":22,"titlePadding":6}}},
"layer":[
{"data":{"name":"cells"},"mark":{"type":"rect","width":16.8,"height":16.8,"clip":true},"encoding":{"color":{"field":"v","type":"quantitative","legend":null,"scale":{"domain":[-0.087,-0.052,0,0.035,0.05,0.067,0.1,0.13,0.154,0.172],"range":["#2a0098","#480090","#780078","#980066","#a60060","#b03058","#c87050","#dc9a44","#eec83c","#ffff30"]}}}},
{"data":{"name":"cells"},"mark":{"type":"circle","size":800,"opacity":0.25,"clip":true},"encoding":{"color":{"field":"v","type":"quantitative"}}},
{"data":{"name":"cells"},"mark":{"type":"circle","size":420,"opacity":0.3,"clip":true},"encoding":{"color":{"field":"v","type":"quantitative"}}},
{"data":{"name":"fine"},"mark":{"type":"circle","size":180,"opacity":0.55,"clip":true},"encoding":{"color":{"field":"v","type":"quantitative"}}},
{"data":{"name":"fine"},"mark":{"type":"circle","size":70,"opacity":0.8,"clip":true},"encoding":{"color":{"field":"v","type":"quantitative"}}},
{"data":{"name":"solid"},"mark":{"type":"line","color":"white","strokeWidth":1,"interpolate":"cardinal-closed","clip":true},"encoding":{"detail":{"field":"c"},"order":{"value":null}}},
{"data":{"name":"dashClosed"},"mark":{"type":"line","color":"white","strokeWidth":1,"strokeDash":[7,5],"interpolate":"cardinal-closed","clip":true},"encoding":{"detail":{"field":"c"},"order":{"value":null}}},
{"data":{"name":"dashOpen"},"mark":{"type":"line","color":"white","strokeWidth":1,"strokeDash":[7,5],"interpolate":"cardinal","clip":true},"encoding":{"detail":{"field":"c"},"order":{"value":null}}},
{"data":{"values":[{"ra":149.285,"dec":-9.8266,"label":"KS93"}]},"mark":{"type":"text","color":"white","font":"DejaVu Sans","fontSize":20,"align":"left","baseline":"alphabetic"},"encoding":{"text":{"field":"label"}}}
]},
{"layer":[
{"data":{"values":[{"a":-0.808,"b":-0.02}]},"mark":{"type":"rect","color":"white"},"encoding":{"x":{"field":"a","type":"quantitative","scale":{"domain":[0,1],"range":[349,375],"nice":false},"axis":null},"x2":{"field":"b"},"y":{"datum":-0.0873,"type":"quantitative","axis":null,"scale":{"domain":[-0.0873,0.172],"nice":false,"zero":false}},"y2":{"datum":0.172}}},
{"data":{"name":"bar"},"mark":{"type":"rect","height":10.6,"clip":true},"encoding":{"x":{"datum":0,"type":"quantitative"},"x2":{"datum":1},"y":{"field":"v","type":"quantitative"},"color":{"field":"v","type":"quantitative"}}},
{"data":{"name":"barTicks"},"mark":{"type":"rule","color":"#333","strokeWidth":1},"encoding":{"x":{"field":"a","type":"quantitative"},"x2":{"field":"b"},"y":{"field":"v","type":"quantitative"}}},
{"data":{"values":[{"a":0,"lo":-0.0873,"hi":0.172}]},"mark":{"type":"rule","color":"#888","strokeWidth":2},"encoding":{"x":{"field":"a","type":"quantitative"},"y":{"field":"lo","type":"quantitative"},"y2":{"field":"hi"}}},
{"data":{"values":[{"a":1,"lo":-0.0873,"hi":0.172}]},"mark":{"type":"rule","color":"#444","strokeWidth":1},"encoding":{"x":{"field":"a","type":"quantitative"},"y":{"field":"lo","type":"quantitative"},"y2":{"field":"hi"}}},
{"data":{"values":[{"a":0,"b":1,"v":0.172}]},"mark":{"type":"rule","color":"#444","strokeWidth":1},"encoding":{"x":{"field":"a","type":"quantitative"},"x2":{"field":"b"},"y":{"field":"v","type":"quantitative"}}},
{"data":{"values":[{"a":1,"v":0.1,"label":"0.1"},{"a":1,"v":0,"label":"0"}]},"mark":{"type":"text","font":"DejaVu Sans","fontSize":19,"color":"#555","angle":270,"align":"center","baseline":"middle","dy":12},"encoding":{"x":{"field":"a","type":"quantitative"},"y":{"field":"v","type":"quantitative"},"text":{"field":"label"}}}
]}
],"resolve":{"scale":{"x":"independent","y":"independent"}}}
